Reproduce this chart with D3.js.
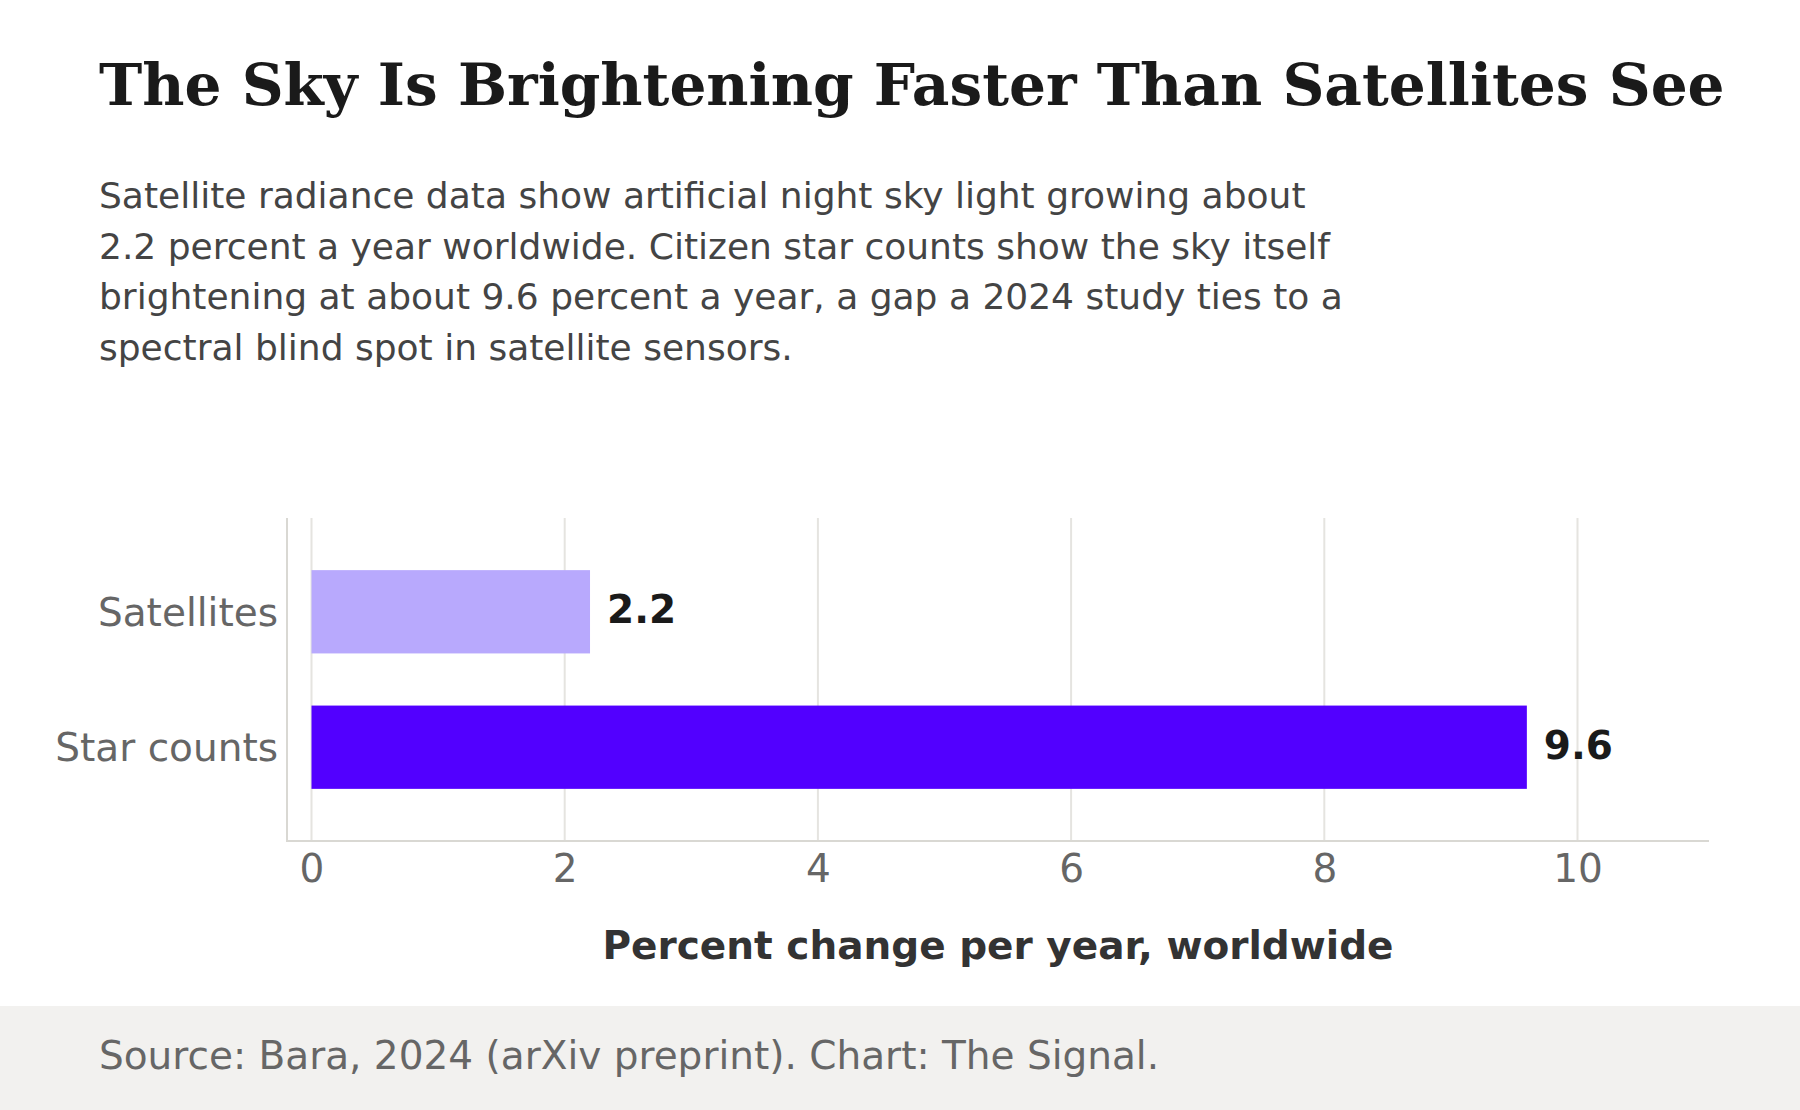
<!DOCTYPE html>
<html>
<head>
<meta charset="utf-8">
<script src="https://cdn.jsdelivr.net/npm/d3@7"></script>
<style>
  html, body { margin: 0; padding: 0; background: #fff; }
  svg { display: block; }
</style>
</head>
<body>
<script>
// Chart data
const categories = ["Satellites", "Star counts"];
const values = [2.2, 9.6];
const barColors = ["#b8a9fd", "#5200ff"];
const xTicks = [0, 2, 4, 6, 8, 10];

const titleText = "The Sky Is Brightening Faster Than Satellites See";
const subtitleLines = [
    "Satellite radiance data show artificial night sky light growing about",
    "2.2 percent a year worldwide. Citizen star counts show the sky itself",
    "brightening at about 9.6 percent a year, a gap a 2024 study ties to a",
    "spectral blind spot in satellite sensors."
];
const xTitle = "Percent change per year, worldwide";
const sourceText = "Source: Bara, 2024 (arXiv preprint). Chart: The Signal.";

const width = 1800, height = 1110;
const sans = "'DejaVu Sans', 'Noto Sans', sans-serif";

const svg = d3.select("body").append("svg")
    .attr("width", width)
    .attr("height", height);

// Title and subtitle
svg.append("text")
    .attr("x", 99)
    .attr("y", 105)
    .attr("font-family", "'DejaVu Serif', serif")
    .attr("font-weight", "bold")
    .attr("font-size", 58.1)
    .attr("fill", "#1a1a1a")
    .text(titleText);

svg.append("g")
    .selectAll("text")
    .data(subtitleLines)
    .join("text")
    .attr("x", 99)
    .attr("y", (d, i) => 208 + i * 50.5)
    .attr("font-family", sans)
    .attr("font-size", 36)
    .attr("fill", "#444")
    .text(d => d);

// Plot area
const plot = { left: 287, right: 1709, top: 518, bottom: 841 };

const x = d3.scaleLinear()
    .domain([0, 11])
    .range([311.5, 311.5 + 11 * 126.6]);

const y = d3.scaleBand()
    .domain(categories)
    .range([plot.top, plot.bottom])
    .paddingInner(0.385)
    .paddingOuter(0.385);

// Gridlines
svg.append("g")
    .selectAll("line")
    .data(xTicks)
    .join("line")
    .attr("x1", d => x(d))
    .attr("x2", d => x(d))
    .attr("y1", plot.top)
    .attr("y2", plot.bottom)
    .attr("stroke", "#e5e4e0")
    .attr("stroke-width", 2);

// Spines
svg.append("line")
    .attr("x1", plot.left).attr("x2", plot.left)
    .attr("y1", plot.top).attr("y2", plot.bottom + 1)
    .attr("stroke", "#d9d8d3")
    .attr("stroke-width", 2);

// Bars
svg.append("g")
    .selectAll("rect")
    .data(categories)
    .join("rect")
    .attr("x", x(0))
    .attr("y", d => y(d))
    .attr("width", (d, i) => x(values[i]) - x(0))
    .attr("height", y.bandwidth())
    .attr("fill", (d, i) => barColors[i]);

// Value labels
svg.append("g")
    .selectAll("text")
    .data(categories)
    .join("text")
    .attr("x", (d, i) => x(values[i]) + 17)
    .attr("y", d => y(d) + y.bandwidth() / 2)
    .attr("dy", "0.3em")
    .attr("font-family", sans)
    .attr("font-weight", "bold")
    .attr("font-size", 39)
    .attr("fill", "#1a1a1a")
    .text((d, i) => values[i].toFixed(1));

// Category labels
svg.append("g")
    .selectAll("text")
    .data(categories)
    .join("text")
    .attr("x", 278)
    .attr("y", d => y(d) + y.bandwidth() / 2)
    .attr("dy", "0.36em")
    .attr("text-anchor", "end")
    .attr("font-family", sans)
    .attr("font-size", 39)
    .attr("fill", "#666")
    .text(d => d);

// X axis
const xAxis = svg.append("g")
    .attr("transform", `translate(0,${plot.bottom})`)
    .call(d3.axisBottom(x).tickValues(xTicks).tickSize(0).tickPadding(13));

xAxis.select(".domain").remove();
xAxis.selectAll("text")
    .attr("font-family", sans)
    .attr("font-size", 39)
    .attr("fill", "#666");

svg.append("line")
    .attr("x1", plot.left).attr("x2", plot.right)
    .attr("y1", plot.bottom).attr("y2", plot.bottom)
    .attr("stroke", "#d9d8d3")
    .attr("stroke-width", 2);

svg.append("text")
    .attr("x", (plot.left + plot.right) / 2)
    .attr("y", 959)
    .attr("text-anchor", "middle")
    .attr("font-family", sans)
    .attr("font-weight", "bold")
    .attr("font-size", 39)
    .attr("fill", "#333")
    .text(xTitle);

// Footer
svg.append("rect")
    .attr("x", 0)
    .attr("y", 1006)
    .attr("width", width)
    .attr("height", height - 1006)
    .attr("fill", "#f2f1ef");

svg.append("text")
    .attr("x", 99)
    .attr("y", 1069)
    .attr("font-family", sans)
    .attr("font-size", 39)
    .attr("fill", "#666")
    .text(sourceText);
</script>
</body>
</html>
